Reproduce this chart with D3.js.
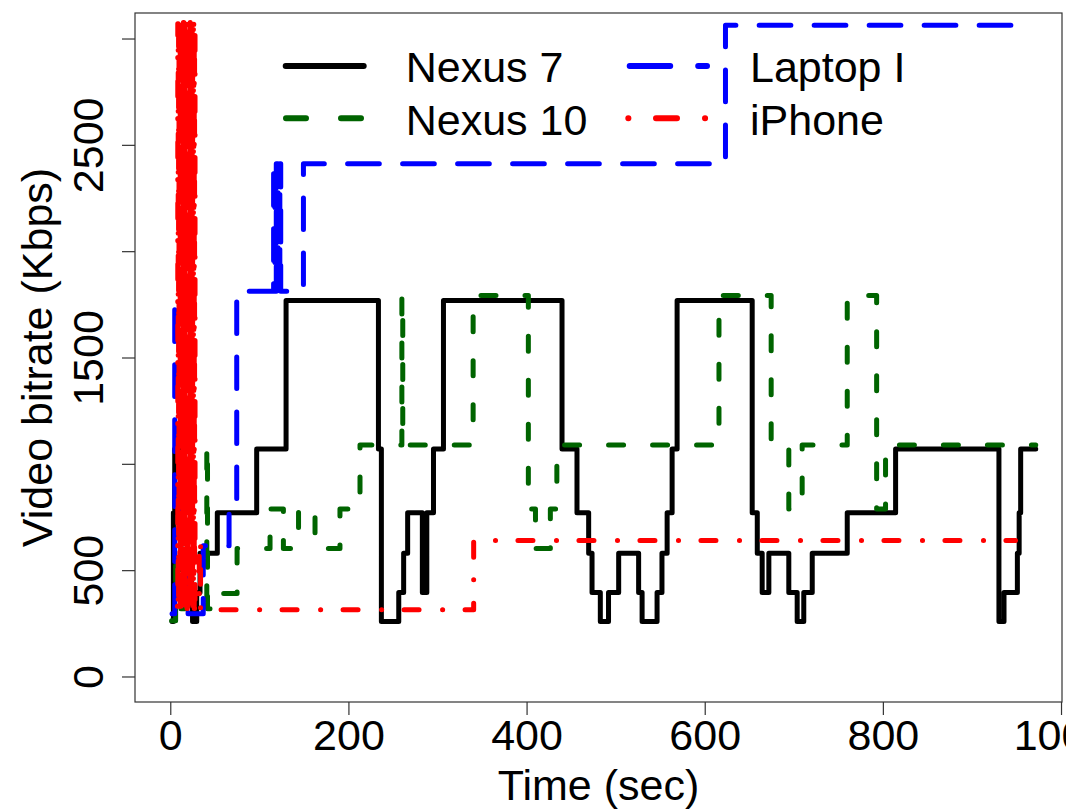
<!DOCTYPE html>
<meta charset="utf-8">
<style>
body { margin: 0; background: #fff; }
svg { display: block; font-family: "Liberation Sans", Arial, Helvetica, sans-serif; }
.axis text { font-size: 43px; fill: #000; }
.axis line { stroke: #333; stroke-width: 1.2px; }
.axis path { display: none; }
.series { fill: none; stroke-width: 5px; stroke-linecap: round; stroke-linejoin: round; }
.lab { font-size: 43px; fill: #000; }
</style>
<svg width="1066" height="810"></svg>
<script src="https://d3js.org/d3.v7.min.js"></script>
<script>
// Nexus 7 (black, solid) - step changes, time in sec, bitrate in Kbps
var nexus7Time = [2, 3.5, 5, 12, 24, 25, 29.7, 33.4, 52.8, 97,
  130, 233.7, 237, 256.5, 262, 266.5, 283, 288, 295.5, 306.7,
  439.8, 456.6, 469.7, 473.5, 482.8, 492, 503.4, 525.8, 529.7, 546.5,
  552, 557.8, 563.4, 569, 653.3, 659, 664.5, 672, 694.4, 703.8,
  711.2, 720.7, 760, 814.3, 930.3, 936, 951, 953, 954.7, 971.6];
var nexus7Rate = [259, 770, 1070, 580, 395, 259, 395, 580, 770, 1070,
  1768, 1070, 259, 395, 580, 770, 395, 770, 1070, 1768,
  1070, 770, 580, 395, 259, 395, 580, 395, 259, 395,
  580, 770, 1070, 1768, 770, 580, 395, 580, 395, 259,
  395, 580, 770, 1070, 259, 395, 580, 770, 1070, 1070];

// Nexus 10 (dark green, dashed)
var nexus10Time = [1.5, 6, 12, 41, 41.8, 56, 75, 112, 127, 144,
  162.5, 190.5, 213, 260, 261, 340, 402, 410, 426.7, 434,
  616, 674.6, 694.4, 709.4, 760, 793, 803, 971.6];
var nexus10Rate = [262, 602, 318, 1089, 318, 390, 602, 788, 602, 788,
  602, 788, 1089, 1791, 1089, 1791, 788, 602, 788, 1089,
  1791, 1089, 788, 1089, 1791, 788, 1089, 1089];

// Laptop I (blue, long dash)
var laptopTime = [2, 5, 12, 20, 37, 66, 74.6, 116, 117.5, 119, 121, 123, 124, 149.5, 623.3, 960];
var laptopRate = [295, 1812, 615, 295, 615, 770, 1812, 2411, 1812, 2411, 1812, 2411, 1812, 2411, 3062, 3062];

// iPhone (red, dot-dash) - oscillates hard during the first half minute
var iphoneTime = [8.0, 8.4, 8.9, 9.3, 9.8, 10.2, 10.7, 11.1, 11.6, 12.0,
  12.5, 12.9, 13.4, 13.8, 14.3, 14.7, 15.2, 15.6, 16.1, 16.5,
  17.0, 17.4, 17.9, 18.3, 18.8, 19.2, 19.7, 20.1, 20.6, 21.0,
  21.5, 21.9, 22.4, 22.8, 23.3, 23.7, 24.2, 24.6, 25.1, 25.5,
  26.0, 26.4, 26.9, 27.3, 27.8, 32.5, 34.0, 340.6, 949];
var iphoneRate = [330, 3070, 320, 3080, 640, 3060, 315, 3075, 330, 3070,
  640, 3080, 320, 3065, 315, 3075, 640, 3070, 325, 3080,
  315, 3060, 640, 3075, 320, 3070, 330, 3080, 640, 3065,
  315, 3075, 330, 3070, 320, 3080, 640, 3060, 315, 3075,
  330, 3070, 320, 3065, 330, 640, 314, 639, 639];

var xTicks = [0, 200, 400, 600, 800, 1000];
var yTicks = [0, 500, 1000, 1500, 2000, 2500, 3000];
var yTickLabels = ["0", "500", "", "1500", "", "2500", ""];

var svg = d3.select("svg"),
    box = {left: 135, right: 1062, top: 13, bottom: 702};

var x = d3.scaleLinear().domain([-39.6, 1001.1]).range([box.left, box.right]);
var y = d3.scaleLinear().domain([-120, 3120]).range([box.bottom, box.top]);

function pairs(t, v) {
  return t.map(function(d, i) { return [d, v[i]]; });
}

var line = d3.line()
    .x(function(d) { return x(d[0]); })
    .y(function(d) { return y(d[1]); })
    .curve(d3.curveStepAfter);

var series = [
  {name: "Nexus 7", t: nexus7Time, v: nexus7Rate, color: "#000000", dash: null},
  {name: "Nexus 10", t: nexus10Time, v: nexus10Rate, color: "#006400", dash: "15,29"},
  {name: "Laptop I", t: laptopTime, v: laptopRate, color: "#0000ff", dash: "31.7,23.3"},
  {name: "iPhone", t: iphoneTime, v: iphoneRate, color: "#ff0000", dash: "0.1,22.4,15,23.5"}
];

svg.selectAll("path.series")
  .data(series)
  .enter().append("path")
    .attr("class", "series")
    .attr("d", function(s) { return line(pairs(s.t, s.v)); })
    .attr("stroke", function(s) { return s.color; })
    .attr("stroke-dasharray", function(s) { return s.dash; });

// box
svg.append("rect")
    .attr("x", box.left).attr("y", box.top)
    .attr("width", box.right - box.left).attr("height", box.bottom - box.top)
    .attr("fill", "none").attr("stroke", "#333").attr("stroke-width", 1.2);

// x axis
var gx = svg.append("g")
    .attr("class", "axis")
    .attr("transform", "translate(0," + box.bottom + ")")
    .call(d3.axisBottom(x).tickValues(xTicks).tickSize(13).tickFormat(d3.format("d")));
gx.selectAll("text").attr("y", 48).attr("dy", 0);

// y axis, labels parallel to the axis
var gy = svg.append("g")
    .attr("class", "axis")
    .attr("transform", "translate(" + box.left + ",0)")
    .call(d3.axisLeft(y).tickValues(yTicks).tickSize(13)
      .tickFormat(function(d, i) { return yTickLabels[i]; }));
gy.selectAll("text")
    .attr("x", 0).attr("y", 0).attr("dy", 0)
    .attr("text-anchor", "middle")
    .attr("transform", "translate(" + (103 - box.left) + ",0) rotate(-90)");

// titles
svg.append("text").attr("class", "lab")
    .attr("x", (box.left + box.right) / 2).attr("y", 800)
    .attr("text-anchor", "middle").text("Time (sec)");
svg.append("text").attr("class", "lab")
    .attr("transform", "translate(52," + (box.top + box.bottom) / 2 + ") rotate(-90)")
    .attr("text-anchor", "middle").text("Video bitrate (Kbps)");

// legend, two columns, no frame
var legendPos = [
  {s: series[0], x1: 285.7, x2: 363.7, tx: 405.7, ly: 66, ty: 81.7, dash: null},
  {s: series[2], x1: 629.7, x2: 707, tx: 750, ly: 66, ty: 81.7, dash: "40.5,28"},
  {s: series[1], x1: 286, x2: 363, tx: 405.7, ly: 118.3, ty: 135, dash: "20,35"},
  {s: series[3], x1: 628.3, x2: 705.5, tx: 750, ly: 118.3, ty: 135, dash: "0.1,27.6,21,28"}
];
var leg = svg.append("g").selectAll("g").data(legendPos).enter().append("g");
leg.append("line")
    .attr("x1", function(d) { return d.x1; }).attr("x2", function(d) { return d.x2; })
    .attr("y1", function(d) { return d.ly; }).attr("y2", function(d) { return d.ly; })
    .attr("stroke", function(d) { return d.s.color; })
    .attr("stroke-width", 6).attr("stroke-linecap", "round")
    .attr("stroke-dasharray", function(d) { return d.dash; });
leg.append("text").attr("class", "lab")
    .attr("x", function(d) { return d.tx; }).attr("y", function(d) { return d.ty; })
    .text(function(d) { return d.s.name; });
</script>
